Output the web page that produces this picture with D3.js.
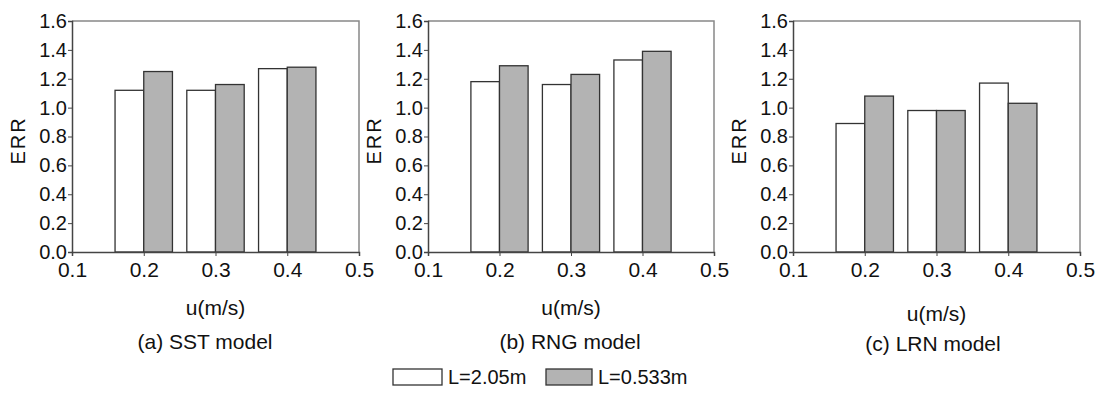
<!DOCTYPE html>
<html>
<head>
  <style>
    body { margin: 0; background: #fff; }
    text { font-family: "Liberation Sans", Arial, sans-serif; fill: #111; }
  </style>
</head>
<body>
  <script src="https://d3js.org/d3.v7.min.js"></script>
  <script>
// chart values
var uValues = [0.2, 0.3, 0.4];
var xTicks = [0.1, 0.2, 0.3, 0.4, 0.5];
var yTicks = [0, 0.2, 0.4, 0.6, 0.8, 1.0, 1.2, 1.4, 1.6];
var seriesNames = ["L=2.05m", "L=0.533m"];
var panelTitles = ["(a) SST model", "(b) RNG model", "(c) LRN model"];
var sstLong = [1.12, 1.12, 1.27];
var sstShort = [1.25, 1.16, 1.28];
var rngLong = [1.18, 1.16, 1.33];
var rngShort = [1.29, 1.23, 1.39];
var lrnLong = [0.89, 0.98, 1.17];
var lrnShort = [1.08, 0.98, 1.03];

var svg = d3.select("body")
  .append("svg")
  .attr("width", 1100)
  .attr("height", 394);

var colors = ["#ffffff", "#b3b3b3"];

// panel layout
var panels = [
  { left: 72, right: 359, title: panelTitles[0], titleX: 205, titleY: 349, uY: 315, data: [sstLong, sstShort] },
  { left: 428, right: 714, title: panelTitles[1], titleX: 570, titleY: 349, uY: 315, data: [rngLong, rngShort] },
  { left: 793, right: 1080, title: panelTitles[2], titleX: 933, titleY: 351, uY: 321, data: [lrnLong, lrnShort] }
];
var plotTop = 21, plotBottom = 252;
var barW = 0.04;

panels.forEach(function(p) {
  var x = d3.scaleLinear().domain([0.1, 0.5]).range([p.left, p.right]);
  var y = d3.scaleLinear().domain([0, 1.6]).range([plotBottom, plotTop]);

  var g = svg.append("g");

  // frame top / right
  g.append("path")
    .attr("d", "M" + p.left + "," + plotTop + "H" + p.right + "V" + plotBottom)
    .attr("fill", "none")
    .attr("stroke", "#888")
    .attr("stroke-width", 1.5);

  // bars
  p.data.forEach(function(vals, si) {
    g.selectAll(".bar" + si)
      .data(vals)
      .enter()
      .append("rect")
      .attr("x", function(d, i) { return si == 0 ? x(uValues[i] - barW) : x(uValues[i]); })
      .attr("width", function(d, i) { return x(uValues[i] + barW) - x(uValues[i]); })
      .attr("y", function(d) { return y(d); })
      .attr("height", function(d) { return plotBottom - y(d); })
      .attr("fill", colors[si])
      .attr("stroke", "#333")
      .attr("stroke-width", 1.3);
  });

  // axes
  var yAxis = d3.axisLeft(y).tickValues(yTicks).tickSize(4).tickPadding(1)
    .tickFormat(d3.format(".1f"));
  var ya = g.append("g").attr("transform", "translate(" + p.left + ",0)").call(yAxis);
  ya.selectAll("text").style("font-size", "20px");

  var xAxis = d3.axisBottom(x).tickValues(xTicks).tickSize(4).tickPadding(6)
    .tickFormat(d3.format(".1f"));
  var xa = g.append("g").attr("transform", "translate(0," + plotBottom + ")").call(xAxis);
  xa.selectAll("text").style("font-size", "21px");

  [ya, xa].forEach(function(a) {
    a.select(".domain").attr("stroke", "#444").attr("stroke-width", 1.5);
    a.selectAll(".tick line").attr("stroke", "#444");
    a.selectAll("text").style("font-family", "'Liberation Sans', Arial, sans-serif").attr("fill", "#111");
  });

  // axis labels
  g.append("text")
    .attr("transform", "translate(" + (p.left - 47) + "," + ((plotTop + plotBottom) / 2 + 4) + ") rotate(-90)")
    .attr("text-anchor", "middle")
    .style("font-size", "20px")
    .style("letter-spacing", "2px")
    .text("ERR");

  g.append("text")
    .attr("x", (p.left + p.right) / 2)
    .attr("y", p.uY)
    .attr("text-anchor", "middle")
    .style("font-size", "21px")
    .text("u(m/s)");

  g.append("text")
    .attr("x", p.titleX)
    .attr("y", p.titleY)
    .attr("text-anchor", "middle")
    .style("font-size", "21px")
    .text(p.title);
});

// legend
var legend = svg.append("g");
var legendItems = [
  { x: 393, w: 49, tx: 448 },
  { x: 546, w: 46, tx: 598 }
];
legendItems.forEach(function(it, i) {
  legend.append("rect")
    .attr("x", it.x).attr("y", 369)
    .attr("width", it.w).attr("height", 16)
    .attr("fill", colors[i])
    .attr("stroke", "#333")
    .attr("stroke-width", 1.3);
  legend.append("text")
    .attr("x", it.tx).attr("y", 384)
    .style("font-size", "20px")
    .text(seriesNames[i]);
});
  </script>
</body>
</html>
